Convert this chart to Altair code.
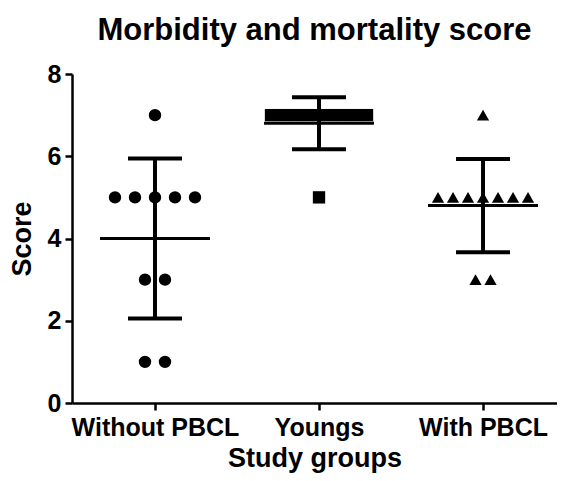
import altair as alt
import pandas as pd
import numpy as np

groups = ["Without PBCL", "Youngs", "With PBCL"]
without_pbcl = [7, 5, 5, 5, 5, 5, 3, 3, 1, 1]
youngs = [7, 7, 7, 7, 7, 7, 7, 7, 7, 5]
with_pbcl = [7, 5, 5, 5, 5, 5, 5, 5, 3, 3]
y_ticks = [0, 2, 4, 6, 8]

series = [without_pbcl, youngs, with_pbcl]
shapes = ["circle", "square", "triangle-up"]
sizes = [154, 150, 230]
spread_px = [20, 12, 15]   # horizontal spacing of tied points (px)

W, H = 485, 329
x_dom = [-0.506, 2.451]
ppu = W / (x_dom[1] - x_dom[0])

rows = []
stats = []
for gi, (g, vals) in enumerate(zip(groups, series)):
    vals = list(vals)
    for v in sorted(set(vals), reverse=True):
        k = vals.count(v)
        for i in range(k):
            off = (i - (k - 1) / 2) * spread_px[gi] / ppu
            rows.append({"group": g, "score": v, "xpos": gi + off})
    m = float(np.mean(vals))
    sd = float(np.std(vals, ddof=1))
    stats.append({"group": g, "gi": gi, "mean": m, "lo": m - sd, "hi": m + sd,
                  "mx1": gi - 55 / ppu, "mx2": gi + 55 / ppu,
                  "cx1": gi - 27 / ppu, "cx2": gi + 27 / ppu})

pts = pd.DataFrame(rows)
st = pd.DataFrame(stats)

FONT = "Liberation Sans"
label_expr = "datum.value == 0 ? 'Without PBCL' : datum.value == 1 ? 'Youngs' : 'With PBCL'"

x_enc = alt.X("xpos:Q", scale=alt.Scale(domain=x_dom, nice=False, zero=False),
              axis=alt.Axis(values=[0, 1, 2], labelExpr=label_expr, title="Study groups",
                            grid=False, tickSize=7, tickWidth=2.5, domainWidth=2.5,
                            labelPadding=5, titlePadding=5, titleFontSize=27))
y_enc = alt.Y("score:Q", scale=alt.Scale(domain=[0, 8], nice=False),
              axis=alt.Axis(values=y_ticks, title="Score", grid=False, tickSize=7,
                            tickWidth=2.5, domainWidth=2.5, labelPadding=4, titlePadding=11))

points = alt.Chart(pts).mark_point(filled=True, color="black", opacity=1).encode(
    x=x_enc, y=y_enc,
    shape=alt.Shape("group:N", scale=alt.Scale(domain=groups, range=shapes), legend=None),
    size=alt.Size("group:N", scale=alt.Scale(domain=groups, range=sizes), legend=None),
)

base = alt.Chart(st)
mean_rule = base.mark_rule(color="black", strokeWidth=3).encode(
    x="mx1:Q", x2="mx2", y="mean:Q")
cap_hi = base.mark_rule(color="black", strokeWidth=4).encode(
    x="cx1:Q", x2="cx2", y="hi:Q")
cap_lo = base.mark_rule(color="black", strokeWidth=4).encode(
    x="cx1:Q", x2="cx2", y="lo:Q")
vert = base.mark_rule(color="black", strokeWidth=4).encode(
    x="gi:Q", y="lo:Q", y2="hi")

chart = alt.layer(points, mean_rule, vert, cap_hi, cap_lo).properties(
    width=W, height=H,
    title=alt.TitleParams("Morbidity and mortality score", fontSize=31, font=FONT,
                          fontWeight="bold", anchor="middle", offset=15, color="black"),
    autosize=alt.AutoSizeParams(type="none"),
    padding={"left": 64, "top": 66, "right": 0, "bottom": 70},
).configure_axis(
    labelFont=FONT, titleFont=FONT, labelFontSize=25, titleFontSize=27,
    labelFontWeight="bold", titleFontWeight="bold", labelColor="black", titleColor="black",
    domainColor="black", tickColor="black",
).configure_view(stroke=None)

chart.save("out.html", embed_options={"renderer": "svg", "actions": False})
